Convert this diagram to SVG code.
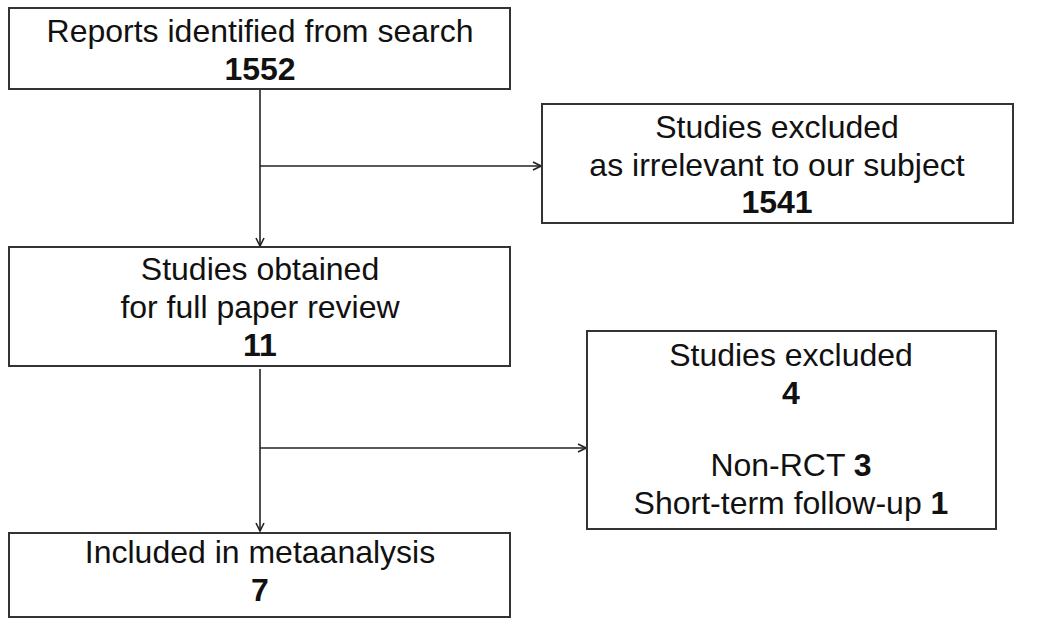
<svg xmlns="http://www.w3.org/2000/svg" width="1050" height="624" viewBox="0 0 1050 624">
<style>
.box{fill:#fff;stroke:#333;stroke-width:2}
.t{font-family:"Liberation Sans",Arial,sans-serif;font-size:32px;fill:#111;text-anchor:middle}
.b{font-weight:bold}
.c{fill:none;stroke:#222;stroke-width:1.6}
</style>
<defs>
<marker id="ah" viewBox="0 0 10 10" refX="9" refY="5" markerWidth="10" markerHeight="10" markerUnits="userSpaceOnUse" orient="auto">
<path d="M1,1 L9,5 L1,9" fill="none" stroke="#222" stroke-width="1.6"/>
</marker>
</defs>
<rect width="1050" height="624" fill="#fff"/>
<g id="connectors">
<line class="c" x1="260" y1="89" x2="260" y2="246" marker-end="url(#ah)"/>
<line class="c" x1="260" y1="166" x2="541" y2="166" marker-end="url(#ah)"/>
<line class="c" x1="260" y1="369" x2="260" y2="531" marker-end="url(#ah)"/>
<line class="c" x1="260" y1="448" x2="586" y2="448" marker-end="url(#ah)"/>
</g>
<g id="n1">
<rect class="box" x="9" y="8" width="501" height="81"/>
<text class="t" x="260" y="42">Reports identified from search</text>
<text class="t b" x="260" y="80">1552</text>
</g>
<g id="n2">
<rect class="box" x="542" y="104" width="471" height="119"/>
<text class="t" x="777" y="138">Studies excluded</text>
<text class="t" x="777" y="176">as irrelevant to our subject</text>
<text class="t b" x="777" y="213">1541</text>
</g>
<g id="n3">
<rect class="box" x="9" y="247" width="501" height="119"/>
<text class="t" x="260" y="280">Studies obtained</text>
<text class="t" x="260" y="318">for full paper review</text>
<text class="t b" x="260" y="356">11</text>
</g>
<g id="n4">
<rect class="box" x="587" y="331" width="409" height="198"/>
<text class="t" x="791" y="366">Studies excluded</text>
<text class="t b" x="791" y="404">4</text>
<text class="t" x="791" y="476">Non-RCT <tspan class="b">3</tspan></text>
<text class="t" x="791" y="514">Short-term follow-up <tspan class="b">1</tspan></text>
</g>
<g id="n5">
<rect class="box" x="9" y="533" width="501" height="84"/>
<text class="t" x="260" y="563">Included in metaanalysis</text>
<text class="t b" x="260" y="601">7</text>
</g>
</svg>
